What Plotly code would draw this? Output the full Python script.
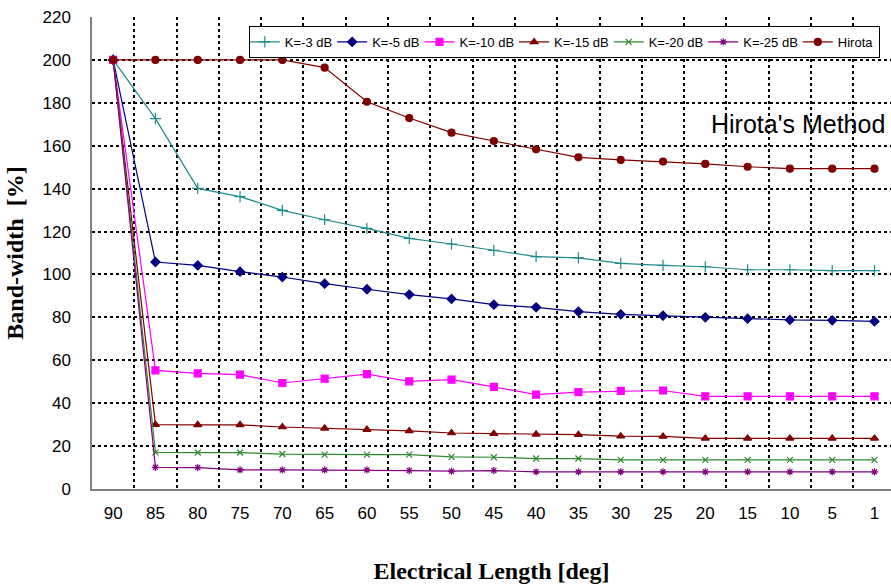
import plotly.graph_objects as go

# Electrical length categories (deg), plotted left to right
lengths = ["90", "85", "80", "75", "70", "65", "60", "55", "50", "45",
           "40", "35", "30", "25", "20", "15", "10", "5", "1"]

k_m3 = [200, 172.6, 140.1, 136.3, 129.9, 125.5, 121.5, 116.8, 114.2, 111.2,
        108.3, 107.7, 105.2, 104.2, 103.6, 102.2, 102.2, 101.8, 101.8]
k_m5 = [200, 105.8, 104.2, 101.3, 98.8, 95.7, 93.1, 90.6, 88.6, 85.9,
        84.7, 82.7, 81.4, 80.8, 80.0, 79.4, 78.8, 78.6, 78.1]
k_m10 = [200, 55.3, 53.9, 53.3, 49.4, 51.4, 53.5, 50.2, 51.0, 47.6,
         44.0, 45.2, 45.7, 45.9, 43.2, 43.2, 43.2, 43.2, 43.2]
k_m15 = [200, 30.0, 29.9, 29.9, 28.9, 28.3, 27.7, 27.1, 26.1, 25.8,
         25.5, 25.3, 24.6, 24.5, 23.6, 23.6, 23.6, 23.6, 23.6]
k_m20 = [200, 17.1, 17.0, 17.0, 16.3, 16.0, 16.0, 16.0, 15.0, 14.8,
         14.2, 14.2, 13.6, 13.6, 13.6, 13.6, 13.6, 13.6, 13.6]
k_m25 = [200, 10.1, 10.0, 8.9, 8.9, 8.9, 8.9, 8.6, 8.3, 8.6,
         8.0, 8.0, 8.0, 8.0, 8.0, 8.0, 8.0, 8.0, 8.0]
hirota = [200, 200, 200, 200, 200, 196.4, 180.5, 172.9, 166.1, 162.2,
          158.3, 154.6, 153.4, 152.6, 151.5, 150.2, 149.3, 149.3, 149.3]

series = [
    ("K=-3 dB", k_m3, "#1f8a8a", "cross-thin", 8),
    ("K=-5 dB", k_m5, "#000080", "diamond", 7),
    ("K=-10 dB", k_m10, "#ff00ff", "square", 7),
    ("K=-15 dB", k_m15, "#800000", "triangle-up", 7),
    ("K=-20 dB", k_m20, "#2e8b2e", "x-thin", 6),
    ("K=-25 dB", k_m25, "#800080", "asterisk", 6),
    ("Hirota", hirota, "#800000", "circle", 7),
]

sans = "Liberation Sans, Arial, sans-serif"
serif = "Liberation Serif, Times New Roman, serif"

fig = go.Figure()
for name, vals, color, symbol, size in series:
    fig.add_trace(go.Scatter(
        x=lengths, y=vals, name=name, mode="lines+markers",
        line=dict(color=color, width=1.2),
        marker=dict(symbol=symbol, size=size, color=color,
                    line=dict(color=color, width=1.2)),
    ))

fig.add_annotation(
    text="Hirota's Method", xref="paper", yref="y",
    x=0.995, y=170, xanchor="right", yanchor="middle",
    showarrow=False, font=dict(family=sans, size=25, color="black"),
)

fig.update_layout(
    width=891, height=588,
    margin=dict(l=92, r=0, t=17, b=99),
    paper_bgcolor="white", plot_bgcolor="white",
    showlegend=True,
    legend=dict(
        orientation="h", x=0.986, xanchor="right", y=0.981, yanchor="top",
        bgcolor="white", bordercolor="black", borderwidth=1,
        font=dict(family=sans, size=13, color="black"),
        itemwidth=30, indentation=-5, tracegroupgap=0,
    ),
    xaxis=dict(
        type="category", range=[-0.5, 18.39],
        tickson="boundaries", showgrid=True,
        gridcolor="black", griddash="dot", gridwidth=1.5,
        showline=True, linecolor="#808080", linewidth=1.5,
        ticks="", ticklabelstandoff=8,
        tickfont=dict(family=sans, size=17, color="black"),
        title=dict(text="Electrical Length [deg]", standoff=40,
                   font=dict(family=serif, size=24, color="black",
                             weight="bold")),
        zeroline=False,
    ),
    yaxis=dict(
        range=[0, 220], dtick=20, tick0=0,
        showgrid=True, gridcolor="black", griddash="dot", gridwidth=1.5,
        showline=True, linecolor="#808080", linewidth=1.5,
        ticks="", ticklabelstandoff=16,
        tickfont=dict(family=sans, size=17, color="black"),
        title=dict(text="Band-width  [%]", standoff=12,
                   font=dict(family=serif, size=24, color="black",
                             weight="bold")),
        zeroline=False,
    ),
)

fig.write_html("out.html")
